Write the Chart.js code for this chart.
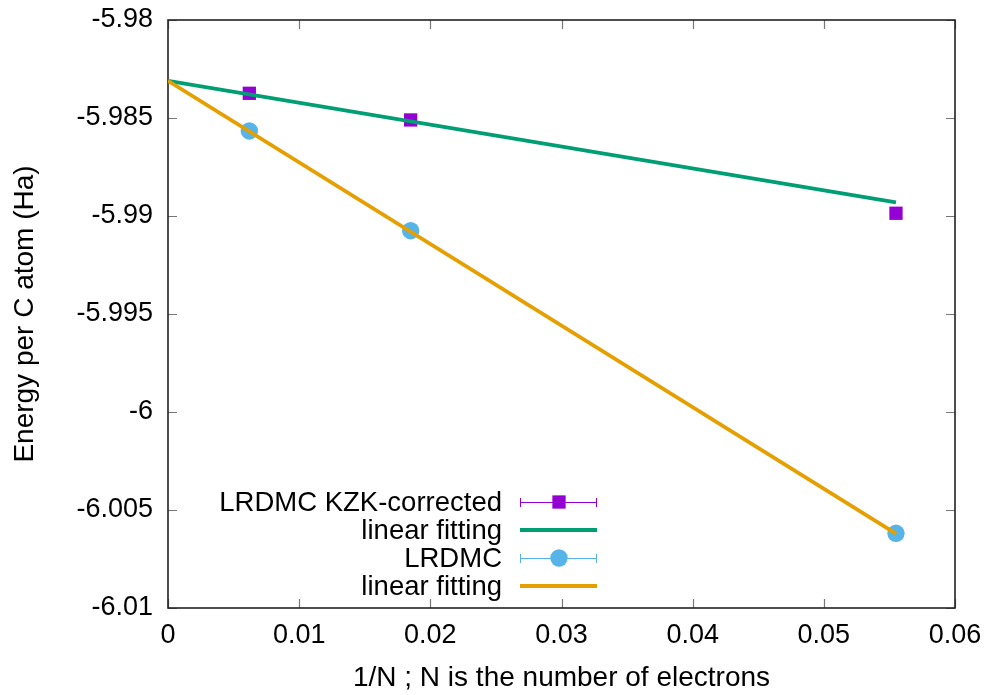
<!DOCTYPE html>
<html>
<head>
<meta charset="utf-8">
<script src="https://cdn.jsdelivr.net/npm/chart.js@4.4.0/dist/chart.umd.min.js"></script>
<style>
    html, body { margin: 0; padding: 0; background: #fff; }
    #wrap { width: 989px; height: 695px; }
</style>
</head>
<body>
<div id="wrap"><canvas id="energy-chart"></canvas></div>
<script>
// 1/N for the three cells and the energies per atom
const invN = [0.0062, 0.0185, 0.0555];
const kzkEnergy = [-5.98374, -5.98510, -5.98986];
const lrdmcEnergy = [-5.98566, -5.99075, -6.00619];

// end points of the two linear fits
const fitX = [0, 0.0555];
const kzkFit = [-5.9831, -5.9893];
const lrdmcFit = [-5.9831, -6.0062];

const xTicks = [0, 0.01, 0.02, 0.03, 0.04, 0.05, 0.06];
const xTickLabels = ["0", "0.01", "0.02", "0.03", "0.04", "0.05", "0.06"];
const yTicks = [-6.01, -6.005, -6, -5.995, -5.99, -5.985, -5.98];
const yTickLabels = ["-6.01", "-6.005", "-6", "-5.995", "-5.99", "-5.985", "-5.98"];

const FONT = '"Liberation Sans", Arial, sans-serif';

function pairs(xs, ys) {
    return xs.map((x, i) => ({ x: x, y: ys[i] }));
}

// gnuplot style box with inward ticks on all four sides
const framePlugin = {
    id: "frame",
    beforeDatasetsDraw(chart) {
        const { ctx, chartArea: a, scales } = chart;
        const tl = 9;
        ctx.save();
        ctx.strokeStyle = "#777";
        ctx.lineWidth = 1.2;
        ctx.beginPath();
        xTicks.forEach(v => {
            const px = Math.round(scales.x.getPixelForValue(v)) + 0.5;
            ctx.moveTo(px, a.bottom); ctx.lineTo(px, a.bottom - tl);
            ctx.moveTo(px, a.top); ctx.lineTo(px, a.top + tl);
        });
        yTicks.forEach(v => {
            const py = Math.round(scales.y.getPixelForValue(v)) + 0.5;
            ctx.moveTo(a.left, py); ctx.lineTo(a.left + tl, py);
            ctx.moveTo(a.right, py); ctx.lineTo(a.right - tl, py);
        });
        ctx.stroke();
        ctx.strokeStyle = "#222";
        ctx.lineWidth = 1.6;
        ctx.strokeRect(a.left, a.top, a.right - a.left, a.bottom - a.top);
        ctx.restore();
    }
};

// key in the lower left, text right aligned with a sample after it
const keyPlugin = {
    id: "key",
    afterDatasetsDraw(chart) {
        const ctx = chart.ctx;
        const textRight = 502, x0 = 520, x1 = 597, xm = 559;
        let y = 502;
        ctx.save();
        ctx.font = "27.5px " + FONT;
        ctx.textAlign = "right";
        ctx.textBaseline = "middle";
        chart.data.datasets.forEach(ds => {
            ctx.fillStyle = "#000";
            ctx.fillText(ds.label, textRight, y + 1);
            if (ds.showLine) {
                ctx.strokeStyle = ds.borderColor;
                ctx.lineWidth = ds.borderWidth;
                ctx.beginPath();
                ctx.moveTo(x0, y); ctx.lineTo(x1, y);
                ctx.stroke();
            } else {
                ctx.strokeStyle = ds.backgroundColor;
                ctx.lineWidth = 1;
                ctx.beginPath();
                ctx.moveTo(x0, y + 0.5); ctx.lineTo(x1, y + 0.5);
                ctx.moveTo(x0 + 0.5, y - 4); ctx.lineTo(x0 + 0.5, y + 5);
                ctx.moveTo(x1 - 0.5, y - 4); ctx.lineTo(x1 - 0.5, y + 5);
                ctx.stroke();
                ctx.fillStyle = ds.backgroundColor;
                Chart.helpers.drawPoint(ctx, {
                    pointStyle: ds.pointStyle, radius: ds.pointRadius, rotation: 0, borderWidth: 0
                }, xm, y);
            }
            y += 28;
        });
        ctx.restore();
    }
};

const chart = new Chart(document.getElementById("energy-chart"), {
    type: "scatter",
    data: {
        datasets: [{
            label: "LRDMC KZK-corrected",
            data: pairs(invN, kzkEnergy),
            pointStyle: "rect",
            pointRadius: 9.4,
            borderWidth: 0,
            backgroundColor: "#9400d3",
            borderColor: "#9400d3",
            order: 4
        }, {
            label: "linear fitting",
            data: pairs(fitX, kzkFit),
            showLine: true,
            pointRadius: 0,
            borderWidth: 3.8,
            borderColor: "#009e73",
            order: 3
        }, {
            label: "LRDMC",
            data: pairs(invN, lrdmcEnergy),
            pointStyle: "circle",
            pointRadius: 8.7,
            borderWidth: 0,
            backgroundColor: "#56b4e9",
            borderColor: "#56b4e9",
            order: 2
        }, {
            label: "linear fitting",
            data: pairs(fitX, lrdmcFit),
            showLine: true,
            pointRadius: 0,
            borderWidth: 3.8,
            borderColor: "#e69f00",
            order: 1
        }]
    },
    options: {
        responsive: true,
        maintainAspectRatio: false,
        animation: false,
        layout: { padding: { top: 20, right: 34, left: 0, bottom: 0 } },
        plugins: {
            legend: { display: false },
            tooltip: { enabled: false }
        },
        scales: {
            x: {
                type: "linear",
                min: 0,
                max: 0.06,
                afterBuildTicks: s => { s.ticks = xTicks.map(v => ({ value: v })); },
                afterFit: s => { s.height = 87; s.paddingLeft = 0; s.paddingRight = 0; },
                grid: { display: false, drawTicks: false },
                border: { display: false },
                ticks: {
                    color: "#000",
                    padding: 11,
                    maxRotation: 0,
                    font: { family: FONT, size: 27 },
                    callback: (v, i) => xTickLabels[i]
                },
                title: {
                    display: true,
                    text: "1/N ; N is the number of electrons",
                    color: "#000",
                    font: { family: FONT, size: 28 },
                    padding: { top: 0, bottom: 0 }
                }
            },
            y: {
                type: "linear",
                min: -6.01,
                max: -5.98,
                afterBuildTicks: s => { s.ticks = yTicks.map(v => ({ value: v })); },
                afterFit: s => { s.width = 168; s.paddingTop = 0; s.paddingBottom = 0; },
                grid: { display: false, drawTicks: false },
                border: { display: false },
                ticks: {
                    color: "#000",
                    padding: 15,
                    font: { family: FONT, size: 27 },
                    callback: (v, i) => yTickLabels[i]
                },
                title: {
                    display: true,
                    text: "Energy per C atom (Ha)",
                    color: "#000",
                    font: { family: FONT, size: 28 },
                    padding: { top: 8, bottom: 0 }
                }
            }
        }
    },
    plugins: [framePlugin, keyPlugin]
});
</script>
</body>
</html>
